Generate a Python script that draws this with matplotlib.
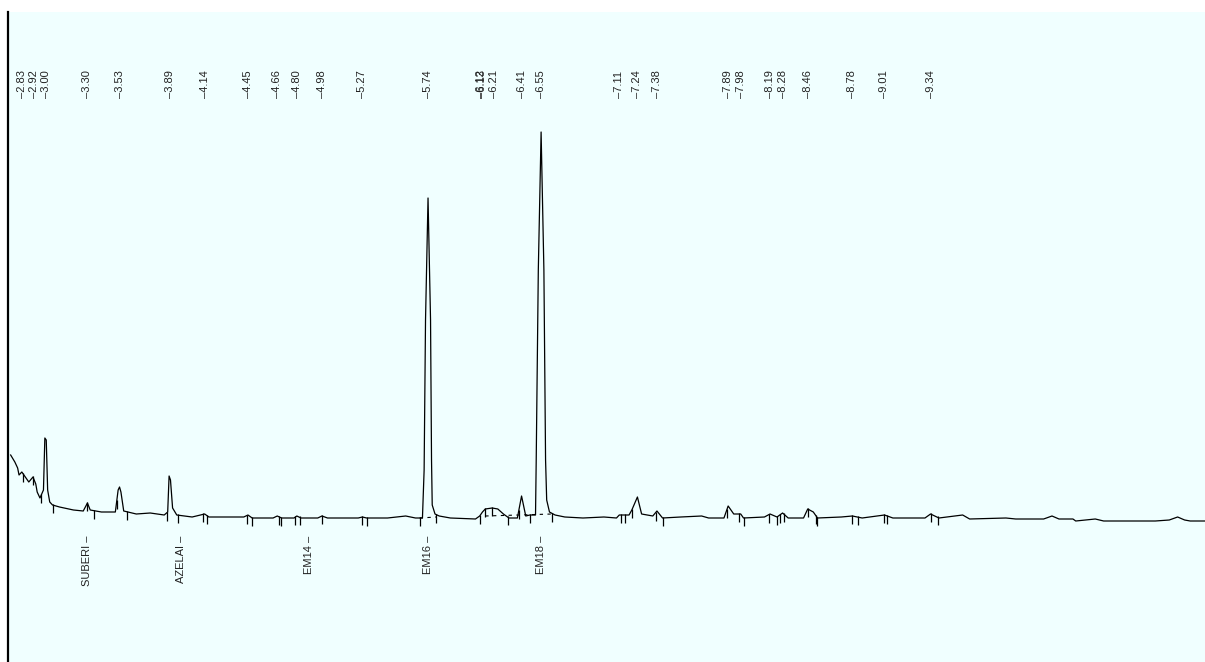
import numpy as np
import matplotlib
matplotlib.use("Agg")
import matplotlib.pyplot as plt
import matplotlib.transforms as mtransforms

plt.rcParams['font.family'] = ['Liberation Sans', 'DejaVu Sans']

# detector trace: retention time (min) and signal
trace_t = [2.75, 2.78, 2.80, 2.81, 2.83, 2.85, 2.88, 2.91, 2.93, 2.94, 2.96, 2.985, 2.995, 3.005, 3.015,
           3.03, 3.05, 3.10, 3.20, 3.27, 3.30, 3.32, 3.40, 3.50, 3.52, 3.53, 3.54, 3.56, 3.65, 3.75,
           3.85, 3.875, 3.885, 3.895, 3.91, 3.94, 4.05, 4.14, 4.17, 4.42, 4.45, 4.48, 4.63, 4.66, 4.69,
           4.78, 4.80, 4.83, 4.95, 4.98, 5.02, 5.24, 5.27, 5.30, 5.45, 5.58, 5.65, 5.70, 5.712, 5.722,
           5.74, 5.758, 5.765, 5.77, 5.79, 5.82, 5.90, 6.08, 6.11, 6.13, 6.15, 6.20, 6.24, 6.28, 6.32,
           6.38, 6.41, 6.44, 6.47, 6.51, 6.515, 6.53, 6.55, 6.57, 6.582, 6.59, 6.61, 6.65, 6.72, 6.85,
           7.00, 7.09, 7.11, 7.18, 7.20, 7.24, 7.27, 7.35, 7.38, 7.42, 7.55, 7.70, 7.75, 7.86, 7.89,
           7.93, 7.98, 8.00, 8.15, 8.19, 8.24, 8.28, 8.32, 8.43, 8.46, 8.50, 8.53, 8.70, 8.78, 8.85,
           9.01, 9.07, 9.30, 9.34, 9.40, 9.57, 9.62, 9.88, 9.95, 10.15, 10.21, 10.26, 10.36, 10.38, 10.52,
           10.58, 10.95, 11.05, 11.11, 11.16, 11.20, 11.31]
trace_s = [65, 58, 52, 45, 48, 44, 38, 43, 36, 28, 22, 30, 82, 80, 30,
           18, 15, 13, 10, 9, 17, 10, 8, 8, 30, 33, 28, 9, 6, 7,
           5, 8, 44, 40, 12, 5, 3, 6, 3, 3, 5, 2, 2, 4, 2,
           2, 4, 2, 2, 4, 2, 2, 3, 2, 2, 4, 2, 2, 50, 200,
           322, 200, 60, 15, 6, 4, 2, 1, 4, 8, 11, 12, 11, 6, 2,
           2, 24, 4, 5, 5, 60, 250, 388, 250, 60, 20, 8, 5, 3, 2,
           3, 2, 5, 5, 10, 23, 6, 4, 9, 2, 3, 4, 2, 2, 14,
           6, 6, 2, 3, 6, 3, 7, 2, 2, 11, 8, 2, 3, 4, 2,
           5, 2, 2, 6, 2, 5, 1, 2, 1, 1, 4, 1, 1, -1, 1,
           -1, -1, 0, 3, 0, -1, -1]

# labelled retention times along the top
peak_rt = [2.83, 2.92, 3.00, 3.30, 3.53, 3.89, 4.14, 4.45, 4.66, 4.80, 4.98, 5.27, 5.74,
           6.12, 6.13, 6.21, 6.41, 6.55, 7.11, 7.24, 7.38, 7.89, 7.98, 8.19, 8.28, 8.46,
           8.78, 9.01, 9.34]

# integration start/stop marks
marks_t = [2.84, 2.91, 2.97, 3.05, 3.30, 3.35, 3.51, 3.58, 3.87, 3.95, 4.13, 4.16, 4.44, 4.48,
           4.67, 4.69, 4.79, 4.82, 4.98, 5.27, 5.30, 5.68, 5.80, 6.11, 6.15, 6.20, 6.31, 6.39,
           6.47, 6.63, 7.12, 7.15, 7.20, 7.37, 7.42, 7.88, 7.97, 8.00, 8.18, 8.24, 8.26, 8.29,
           8.46, 8.52, 8.53, 8.78, 8.82, 9.01, 9.03, 9.34, 9.39]

# named compounds along the bottom
compounds = ['SUBERI', 'AZELAI', 'EM14', 'EM16', 'EM18']
compound_rt = [3.30, 3.97, 4.89, 5.74, 6.55]

# drop baselines under the fused peaks
base_t = [[5.68, 5.80], [6.15, 6.63]]
base_s = [[2, 3], [4, 6]]

fig = plt.figure(figsize=(12.05, 6.62), dpi=100, facecolor='white')
ax = fig.add_axes([8 / 1205, 0, 1197 / 1205, 650 / 662])
ax.set_facecolor('#F0FFFF')
ax.set_xlim(2.731, 11.306)
ax.set_ylim(-142, 508)

ax.plot(trace_t, trace_s, color='black', lw=0.9)

mark_y = np.interp(marks_t, trace_t, trace_s)
ax.vlines(marks_t, mark_y - 8, mark_y + 1, color='black', lw=0.9)

for bt, bs in zip(base_t, base_s):
    ax.plot(bt, bs, color='black', lw=0.8, ls=(0, (3, 4)))

trans = mtransforms.blended_transform_factory(ax.transData, ax.transAxes)
for rt in peak_rt:
    ax.text(rt, 0.868, '\u2013' + f'{rt:.2f}', transform=trans, rotation=90,
            ha='center', va='bottom', fontsize=8, color='#222222')

for name, rt in zip(compounds, compound_rt):
    ax.text(rt, 0.195, name + ' \u2013', transform=trans, rotation=90,
            ha='center', va='top', fontsize=8, color='#222222')

for side in ['top', 'right', 'bottom']:
    ax.spines[side].set_visible(False)
ax.spines['left'].set_linewidth(1.6)
ax.set_xticks([])
ax.set_yticks([])

fig.savefig('out.png', dpi=100, facecolor='white')
